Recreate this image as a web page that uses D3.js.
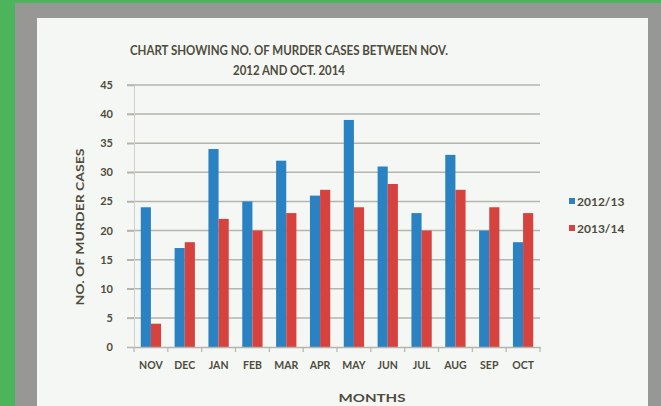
<!DOCTYPE html>
<html><head><meta charset="utf-8">
<script src="https://cdn.jsdelivr.net/npm/d3@7"></script>
<style>html,body{margin:0;padding:0;background:#4cb45a;}svg{display:block;}</style>
</head><body>
<svg id="c" width="661" height="406"></svg>
<script>
const months = ["NOV","DEC","JAN","FEB","MAR","APR","MAY","JUN","JUL","AUG","SEP","OCT"];
const series = ["2012/13","2013/14"];
const values2012 = [24,17,34,25,32,26,39,31,23,33,20,18];
const values2013 = [4,18,22,20,23,27,24,28,20,27,24,23];
const yTicks = [0,5,10,15,20,25,30,35,40,45];
const colors = ["#2b82c2","#d6423d"];

const svg = d3.select("#c");
const font = "Lato, 'Open Sans', sans-serif";
const txt = "#4e4c3c";

// photo frame
svg.append("rect").attr("x",0).attr("y",0).attr("width",661).attr("height",406).attr("fill","#4cb45a");
svg.append("rect").attr("x",15).attr("y",3).attr("width",646).attr("height",403).attr("fill","#979896");
svg.append("rect").attr("x",37).attr("y",18).attr("width",611).attr("height",388).attr("fill","#f5f7f5");

const x = d3.scaleBand().domain(months).range([134,540]).paddingInner(0.4).paddingOuter(0.2);
const x1 = d3.scaleBand().domain(series).range([0,x.bandwidth()]);
const y = d3.scaleLinear().domain([0,45]).range([347,85]);

// gridlines
svg.append("g").selectAll("line").data(yTicks.filter(d=>d>0)).join("line")
  .attr("x1",127).attr("x2",540).attr("y1",d=>y(d)).attr("y2",d=>y(d))
  .attr("stroke","#b5b5ad").attr("stroke-width",1.5);

// y axis
const ya = svg.append("g").attr("transform","translate(134,0)")
  .call(d3.axisLeft(y).tickValues(yTicks).tickSize(7).tickPadding(14));
ya.select(".domain").attr("stroke","#d0d0c8").attr("stroke-width",1);
ya.selectAll(".tick line").attr("stroke","#b5b5ad").attr("stroke-width",1.5);
ya.selectAll("text").attr("fill",txt).attr("font-family",font).attr("font-weight","bold").attr("font-size",11);

// bars
const data = months.map((m,i)=>({m, v:[values2012[i],values2013[i]]}));
svg.append("g").selectAll("g").data(data).join("g")
  .attr("transform",d=>`translate(${x(d.m)},0)`)
  .selectAll("rect").data(d=>d.v.map((v,j)=>({s:series[j],v,j}))).join("rect")
  .attr("x",d=>x1(d.s)).attr("width",x1.bandwidth())
  .attr("y",d=>y(d.v)).attr("height",d=>y(0)-y(d.v))
  .attr("fill",d=>colors[d.j]);

// x axis
const xOuter = d3.scaleBand().domain(months).range([134,540]);
const xa = svg.append("g").attr("transform","translate(0,347)")
  .call(d3.axisBottom(xOuter).tickSize(0).tickPadding(15));
xa.select(".domain").attr("stroke","#b5b5ad").attr("stroke-width",1.5);
xa.selectAll("text").attr("fill",txt).attr("font-family",font).attr("font-weight","bold").attr("font-size",10.5);
svg.append("g").selectAll("line").data(d3.range(months.length+1)).join("line")
  .attr("x1",i=>134+i*xOuter.step()).attr("x2",i=>134+i*xOuter.step())
  .attr("y1",347).attr("y2",352).attr("stroke","#b5b5ad").attr("stroke-width",1.2);

// titles
const title = svg.append("text").attr("text-anchor","middle").attr("fill",txt)
  .attr("font-family",font).attr("font-weight","bold").attr("font-size",12.5);
title.append("tspan").attr("x",289).attr("y",55).attr("textLength",318).attr("lengthAdjust","spacingAndGlyphs")
  .text("CHART SHOWING NO. OF MURDER CASES BETWEEN NOV.");
title.append("tspan").attr("x",289).attr("y",75).attr("textLength",112).attr("lengthAdjust","spacingAndGlyphs")
  .text("2012 AND OCT. 2014");

svg.append("text").attr("x",372).attr("y",402).attr("text-anchor","middle").attr("fill",txt)
  .attr("font-family",font).attr("font-weight","bold").attr("font-size",11)
  .attr("textLength",67).attr("lengthAdjust","spacingAndGlyphs").text("MONTHS");

svg.append("text").attr("transform","translate(84,227) rotate(-90)").attr("text-anchor","middle")
  .attr("fill",txt).attr("font-family",font).attr("font-weight","bold").attr("font-size",12)
  .attr("textLength",157).attr("lengthAdjust","spacingAndGlyphs")
  .text("NO. OF MURDER CASES");

// legend
const lg = svg.append("g").selectAll("g").data(series).join("g")
  .attr("transform",(d,i)=>`translate(569,${202+i*27})`);
lg.append("rect").attr("x",0).attr("y",-4).attr("width",6).attr("height",6).attr("fill",(d,i)=>colors[i]);
lg.append("text").attr("x",8).attr("y",4).attr("fill",txt).attr("font-family",font)
  .attr("font-weight","bold").attr("font-size",12).text(d=>d);
</script>
</body></html>
